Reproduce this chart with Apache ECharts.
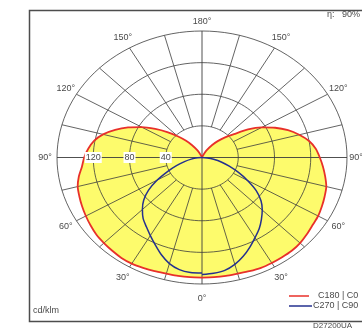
<!DOCTYPE html>
<html>
<head>
<meta charset="utf-8">
<script src="https://cdn.jsdelivr.net/npm/echarts@6/dist/echarts.min.js"></script>
<style>
  html, body { margin: 0; padding: 0; background: #fff; }
  #chart { width: 362px; height: 333px; }
</style>
</head>
<body>
<div id="chart"></div>
<script>
// Gamma angles (degrees from nadir) at which intensities are given
const gammaDeg = [0,5,10,15,20,25,30,35,40,45,50,55,60,65,70,75,80,85,90,
                  95,100,105,110,115,120,125,130,135,140,145,150,155,160,165,170,175,180];

// Luminous intensity, cd/klm — C0 plane (right half) and C180 plane (left half)
const c0Values   = [152,152,152,152,153,154,154,154,154,153,151,149,148,146,144,142,138,134,130,
                    126,120,111,101,89,76,62,46,36,27,19,11,5,2,1,0,0,0];
const c180Values = [152,152,152,152,153,154,155,155,154,153,152,150,148,146,144,142,138,133,130,
                    126,121,113,102,90,77,63,50,38,28,19,11,5,2,1,0,0,0];

// C90 plane (right half) and C270 plane (left half), gamma 0..90
const c90Values  = [148,147,145,140,133,125,117,110,102,94,85,73,58,44,32,22,13,6,0];
const c270Values = [146,146,144,139,131,122,114,107,101,93,84,72,57,42,30,20,12,5,0];

// Polar grid
const ringValues  = [40, 80, 120, 160];
const ringLabels  = ['40', '80', '120'];
const spokeAngles = [15, 30, 45, 60, 75, 105, 120, 135, 150, 165];
const angleLabels = [0, 30, 60, 90, 120, 150, 180];

const RAD = Math.PI / 180;
const GRID = '#3c3c3c';
const TEXT = '#4a4a4a';
const FONT = '9px "Liberation Sans", Arial, sans-serif';

// (gamma, intensity) -> cartesian data point; side = +1 right, -1 left
function toXY(g, r, side) {
  return [side * r * Math.sin(g * RAD), -r * Math.cos(g * RAD)];
}

function halfCurve(values, side, reverse) {
  const pts = values.map((v, i) => toXY(gammaDeg[i], v, side));
  return reverse ? pts.reverse() : pts;
}

// closed outlines: right half top-down, then left half back up
const redCurve  = halfCurve(c0Values, 1, false).concat(halfCurve(c180Values, -1, true));
const blueCurve = halfCurve(c90Values, 1, false).concat(halfCurve(c270Values, -1, true));

function renderFill(params, api) {
  const pts = redCurve.map(p => api.coord(p));
  return {
    type: 'polygon',
    shape: { points: pts, smooth: 0.25 },
    style: { fill: '#fdfb6c', stroke: null }
  };
}

function renderGrid(params, api) {
  const children = [];
  const P = (r, g, side) => api.coord(toXY(g, r, side));
  const outer = ringValues[ringValues.length - 1];

  ringValues.forEach(r => {
    const pts = [];
    for (let a = 0; a <= 360; a += 3) pts.push(P(r, a, 1));
    children.push({ type: 'polyline', shape: { points: pts },
      style: { stroke: GRID, lineWidth: 0.8, fill: 'none' } });
  });

  spokeAngles.forEach(g => {
    [1, -1].forEach(s => {
      const a = P(ringValues[0], g, s), b = P(outer, g, s);
      children.push({ type: 'line', shape: { x1: a[0], y1: a[1], x2: b[0], y2: b[1] },
        style: { stroke: GRID, lineWidth: 0.8 } });
    });
  });

  // full axes through the centre: 0°–180° and 90°–90°
  const top = P(outer, 180, 1), bot = P(outer, 0, 1);
  const lft = P(outer, 90, -1), rgt = P(outer, 90, 1);
  children.push({ type: 'line', shape: { x1: top[0], y1: top[1], x2: bot[0], y2: bot[1] },
    style: { stroke: GRID, lineWidth: 0.9 } });
  children.push({ type: 'line', shape: { x1: lft[0], y1: lft[1], x2: rgt[0], y2: rgt[1] },
    style: { stroke: GRID, lineWidth: 0.9 } });

  // angle labels just outside the outer ring
  const c = api.coord([0, 0]);
  angleLabels.forEach(g => {
    const sides = (g === 0 || g === 180) ? [1] : [-1, 1];
    sides.forEach(s => {
      const p = P(outer, g, s);
      const dx = p[0] - c[0], dy = p[1] - c[1];
      const len = Math.hypot(dx, dy) || 1;
      let off = 12;
      if (g === 0) off = 15;
      else if (g === 180) off = 9;
      else if (g === 90 && s > 0) off = 9;
      children.push({ type: 'text', x: p[0] + dx / len * off, y: p[1] + dy / len * off,
        style: { text: g + '°', fill: TEXT, font: FONT, align: 'center', verticalAlign: 'middle' } });
    });
  });
  return { type: 'group', children };
}

function renderRingLabels(params, api) {
  const children = ringLabels.map((t, i) => {
    const p = api.coord(toXY(90, ringValues[i], -1));
    return { type: 'text', x: p[0], y: p[1],
      style: { text: t, fill: TEXT, font: FONT, align: 'center', verticalAlign: 'middle',
               backgroundColor: '#fff', padding: [1, 1] } };
  });
  return { type: 'group', children };
}

const chart = echarts.init(document.getElementById('chart'), null, { renderer: 'canvas' });
chart.setOption({
  animation: false,
  backgroundColor: '#fff',
  grid: { left: 57, right: 15, top: 31, bottom: 49 },
  xAxis: { type: 'value', min: -160, max: 160, show: false },
  yAxis: { type: 'value', min: -160, max: 160, show: false },
  graphic: [
    { type: 'rect', left: 27, top: 8, shape: { width: 345, height: 311 },
      style: { fill: 'none', stroke: '#4d4d4d', lineWidth: 1.5 }, z: 10 },
    { type: 'text', left: 327, top: 10, style: { text: 'η:   90%', fill: TEXT, font: FONT }, z: 10 },
    { type: 'text', left: 33, top: 306, style: { text: 'cd/klm', fill: TEXT, font: FONT }, z: 10 },
    { type: 'line', shape: { x1: 289, y1: 296, x2: 309, y2: 296 },
      style: { stroke: '#e8302a', lineWidth: 1.5 }, z: 10 },
    { type: 'text', left: 318, top: 291, style: { text: 'C180 | C0', fill: TEXT, font: FONT }, z: 10 },
    { type: 'line', shape: { x1: 289, y1: 306, x2: 312, y2: 306 },
      style: { stroke: '#24308f', lineWidth: 1.5 }, z: 10 },
    { type: 'text', left: 313, top: 301, style: { text: 'C270 | C90', fill: TEXT, font: FONT }, z: 10 },
    { type: 'text', left: 313, top: 322, style: { text: 'D27200UA', fill: TEXT, font: '8px "Liberation Sans", Arial, sans-serif' }, z: 10 }
  ],
  series: [
    { type: 'custom', name: 'fill', renderItem: renderFill, data: [[0, 0]], z: 1, silent: true },
    { type: 'custom', name: 'grid', renderItem: renderGrid, data: [[0, 0]], z: 2, silent: true },
    { type: 'line', name: 'C180 | C0', data: redCurve, smooth: 0.25, showSymbol: false, z: 3,
      lineStyle: { color: '#e8302a', width: 1.8 }, clip: false },
    { type: 'line', name: 'C270 | C90', data: blueCurve, smooth: 0.25, showSymbol: false, z: 3,
      lineStyle: { color: '#24308f', width: 1.5 }, clip: false },
    { type: 'custom', name: 'ringLabels', renderItem: renderRingLabels, data: [[0, 0]], z: 4, silent: true }
  ]
});
</script>
</body>
</html>
